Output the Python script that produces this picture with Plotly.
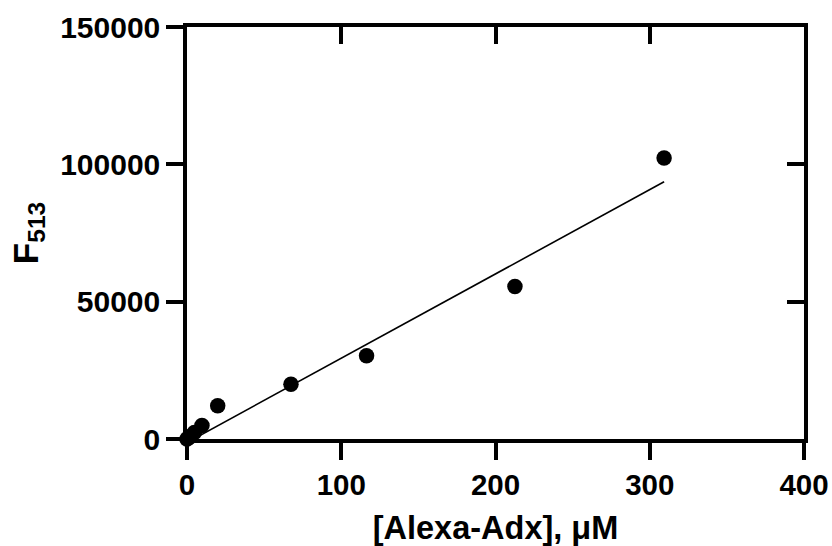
import plotly.graph_objects as go

# Data
conc_uM = [0, 1.2, 2.4, 4.8, 9.7, 19.9, 67.4, 116.4, 212.6, 309.3]
f513 = [0, 500, 1000, 2400, 4900, 12100, 19900, 30300, 55500, 102300]

# Linear fit parameters
fit_slope = 307.0
fit_intercept = -1300.0
fit_x = [min(conc_uM), max(conc_uM)]
fit_y = [fit_slope * v + fit_intercept for v in fit_x]

x_ticks = [0, 100, 200, 300, 400]
y_ticks = [0, 50000, 100000, 150000]
x_range = [0, 400]
y_range = [0, 150000]

FONT = "Arial, 'Liberation Sans', sans-serif"
LW = 3.5
TL = 17

fig = go.Figure()
fig.add_trace(go.Scatter(x=fit_x, y=fit_y, mode="lines",
                         line=dict(color="black", width=1.6),
                         cliponaxis=False, showlegend=False))
fig.add_trace(go.Scatter(x=conc_uM, y=f513, mode="markers",
                         marker=dict(color="black", size=15.5),
                         cliponaxis=False, showlegend=False))
# helper (empty) trace so the mirror axes with inward ticks exist
fig.add_trace(go.Scatter(x=[], y=[], xaxis="x2", yaxis="y2", showlegend=False))

common = dict(showgrid=False, zeroline=False, showline=True, linecolor="black",
              linewidth=LW, tickcolor="black", tickwidth=LW, ticklen=TL)

fig.update_layout(
    width=832, height=546,
    margin=dict(l=187, r=28, t=27, b=107, autoexpand=False),
    paper_bgcolor="white", plot_bgcolor="white",
    font=dict(family=FONT, color="black", size=30, weight="bold"),
    xaxis=dict(range=x_range, tickvals=x_ticks, ticks="outside",
               tickfont=dict(size=29.5, family=FONT, weight="bold"),
               title=dict(text="[Alexa-Adx], μM", standoff=26,
                          font=dict(size=32.5, family=FONT, weight="bold")),
               **common),
    yaxis=dict(range=y_range, tickvals=y_ticks, ticks="outside", tickformat="d",
               tickfont=dict(size=30, family=FONT, weight="bold"),
               title=dict(text="F<sub>513</sub>", standoff=12,
                          font=dict(size=35, family=FONT, weight="bold")),
               **common),
    xaxis2=dict(range=x_range, tickvals=x_ticks, ticks="inside", overlaying="x",
                side="top", showticklabels=False, anchor="y2", **common),
    yaxis2=dict(range=y_range, tickvals=y_ticks, ticks="inside", overlaying="y",
                side="right", showticklabels=False, anchor="x2", **common),
)

fig.write_html(
    "out.html",
    config={"displayModeBar": False},
    post_script="document.body.style.margin='0';document.body.style.overflow='hidden';",
)
